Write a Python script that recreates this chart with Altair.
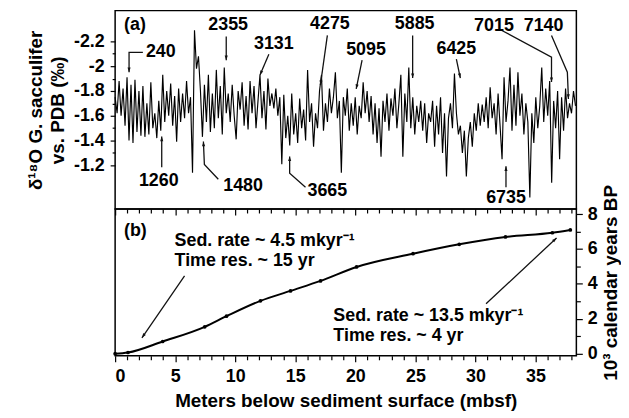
import math
import altair as alt
import pandas as pd

# ---------------- data ----------------
# panel (a): d18O of G. sacculifer, regular depth sampling
depth_step = 0.1652
d18o = [
    -1.75, -1.62, -1.88, -1.60, -1.82,
    -1.52, -1.91, -1.40, -1.85, -1.38,
    -1.89, -1.47, -1.80, -1.44, -1.84,
    -1.43, -1.70, -1.45, -1.87, -1.50,
    -1.62, -1.42, -1.72, -1.48, -1.93,
    -1.55, -1.80, -1.60, -1.86, -1.52,
    -1.76, -1.39, -1.82, -1.55, -1.78,
    -1.58, -1.88, -1.62, -1.75, -1.14,
    -2.29, -1.98, -2.08, -1.80, -1.43,
    -1.85, -1.55, -1.93, -1.47, -1.78,
    -1.50, -1.97, -1.58, -1.84, -1.45,
    -1.99, -1.62, -1.78, -1.55, -1.85,
    -1.60, -1.41, -1.80, -1.65, -1.87,
    -1.52, -1.76, -1.49, -1.88, -1.62,
    -1.84, -1.50, -1.72, -1.93, -1.58,
    -1.80, -1.49, -1.90, -1.68, -1.78,
    -1.66, -1.82, -1.60, -1.75, -1.21,
    -1.77, -1.42, -1.60, -1.36, -1.78,
    -1.45, -1.62, -1.38, -1.74, -1.50,
    -1.65, -1.40, -1.97, -1.55, -1.70,
    -1.35, -1.62, -1.50, -1.80, -1.93,
    -1.48, -1.70, -1.55, -1.82, -1.62,
    -1.75, -1.95, -1.58, -1.72, -1.14,
    -1.75, -1.60, -1.82, -1.48, -1.70,
    -1.52, -1.75, -1.45, -1.68, -1.58,
    -1.87, -1.62, -1.80, -1.55, -1.76,
    -1.45, -1.70, -1.38, -1.66, -1.27,
    -1.72, -1.55, -1.78, -1.48, -1.74,
    -1.60, -1.82, -1.50, -1.70, -1.93,
    -1.27, -1.78, -1.55, -1.99, -1.50,
    -1.75, -1.45, -1.68, -1.55, -1.72,
    -1.48, -1.70, -1.38, -1.62, -1.55,
    -1.72, -1.35, -1.68, -1.45, -1.75,
    -1.30, -1.62, -1.11, -1.58, -1.70,
    -1.50, -1.94, -1.62, -1.45, -1.52,
    -1.30, -1.48, -1.11, -1.42, -1.55,
    -1.35, -1.62, -1.48, -1.70, -1.52,
    -1.69, -1.55, -1.75, -1.50, -1.83,
    -1.58, -1.70, -1.45, -1.78, -1.52,
    -1.25, -1.91, -1.55, -1.72, -1.99,
    -1.48, -1.85, -1.52, -1.95, -1.60,
    -1.78, -1.45, -1.70, -1.55, -0.94,
    -1.62, -1.38, -1.75, -1.50, -1.68,
    -1.99, -1.55, -1.82, -1.60, -1.88,
    -1.06, -1.72, -1.50, -1.80, -1.25,
    -1.75, -1.48, -1.82, -1.58, -1.70,
    -1.62, -1.80, -1.68,
]
depth = [round(i * depth_step, 4) for i in range(len(d18o))]

# panel (a) labels (ages, yr BP) and their arrows
lab_text = ["240", "2355", "3131", "1260", "1480", "3665", "4275", "5095",
            "5885", "6425", "6735", "7015", "7140"]
lab_d = [3.80, 9.41, 13.21, 3.63, 10.65, 17.67, 17.88, 20.89, 24.94, 28.41, 32.54, 31.54, 35.67]
lab_v = [-2.112, -2.328, -2.176, -1.072, -1.032, -0.992, -2.336, -2.128, -2.336, -2.136, -0.936, -2.32, -2.32]
arrows_a = [
    [(2.31, -2.112), (1.16, -2.112), (1.16, -1.952)],
    [(9.25, -2.240), (9.25, -2.048)],
    [(12.80, -2.096), (12.06, -1.928)],
    [(3.88, -1.184), (3.88, -1.432)],
    [(8.59, -1.088), (7.43, -1.208), (7.35, -1.392)],
    [(15.85, -1.024), (14.53, -1.136), (14.53, -1.272)],
    [(17.67, -2.248), (17.09, -1.848)],
    [(20.56, -2.048), (20.07, -1.816)],
    [(24.77, -2.248), (24.77, -1.904)],
    [(28.41, -2.056), (28.74, -1.904)],
    [(32.54, -1.024), (32.54, -1.192)],
    [(32.20, -2.288), (36.33, -2.072), (36.33, -1.872)],
    [(36.33, -2.248), (37.65, -1.952), (37.74, -1.736)],
]

# panel (b): age-depth model
age_depth = [0.0, 1.07, 3.96, 7.46, 9.27, 12.1, 14.6, 17.1, 20.1, 24.8, 28.65, 32.5, 36.4, 37.9]
age_kyr = [0.0, 0.07, 0.70, 1.54, 2.15, 3.03, 3.60, 4.17, 4.97, 5.73, 6.27, 6.69, 6.93, 7.09]
note_text = ["Sed. rate ~ 4.5 mkyr\u207b\u00b9", "Time res. ~ 15 yr",
             "Sed. rate ~ 13.5 mkyr\u207b\u00b9", "Time res. ~ 4 yr"]
note_d = [4.95, 4.95, 18.17, 18.17]
note_a = [6.46, 5.31, 2.17, 1.03]
arrows_b = [
    [(5.78, 4.46), (2.23, 0.91)],
    [(30.88, 2.86), (36.75, 6.63)],
]
age_ticks = [0, 1, 2, 3, 4, 5, 6, 7, 8]

# ---------------- layout ----------------
W, HA, HB = 465, 200, 148
XMIN, XMAX = 0.0, 38.4
YA = [-2.448, -0.848]
YB = [-0.12, 8.29]
FONT = "Liberation Sans"
LBL = 18
pxm = W / (XMAX - XMIN)
pya = HA / (YA[1] - YA[0])
pyb = HB / (YB[1] - YB[0])

HEAD = "M0,0L0.7,2.1L-0.7,2.1Z"


def head_angle(p0, p1, sx, sy):
    dx = (p1[0] - p0[0]) * sx
    dy = (p1[1] - p0[1]) * sy
    return math.degrees(math.atan2(dx, -dy)) % 360


def arrow_frames(arrows, sx, sy):
    rows, heads = [], []
    for k, pts in enumerate(arrows):
        for j, (d, v) in enumerate(pts):
            rows.append({"id": k, "o": j, "depth": d, "val": v})
        heads.append({"depth": pts[-1][0], "val": pts[-1][1],
                      "ang": head_angle(pts[-2], pts[-1], sx, sy)})
    return pd.DataFrame(rows), pd.DataFrame(heads)


xs = alt.Scale(domain=[XMIN, XMAX], nice=False, zero=False)
x_ticks = list(range(0, 39))
tick5 = {"condition": {"test": "datum.value % 5 == 0", "value": 6}, "value": 4}

# ---- panel (a)
dfA = pd.DataFrame({"depth": depth, "val": d18o})
ya_scale = alt.Scale(domain=YA, reverse=True, nice=False, zero=False)
ya_vals = [-2.2, -2.1, -2.0, -1.9, -1.8, -1.7, -1.6, -1.5, -1.4, -1.3, -1.2]
major_a = "abs(datum.value*5 - round(datum.value*5)) < 0.001"

xa = alt.X("depth:Q", scale=xs,
           axis=alt.Axis(values=x_ticks, labels=False, title=None, domain=False,
                         grid=False, tickSize=tick5))
ya = alt.Y("val:Q", scale=ya_scale,
           axis=alt.Axis(values=ya_vals, domain=False, grid=False,
                         labelExpr=major_a + " ? '' + datum.value : ''",
                         tickSize={"condition": {"test": major_a, "value": 5}, "value": 3},
                         labelPadding=6,
                         title=["\u03b4\u00b9\u2078O G. sacculifer", "vs. PDB (\u2030)"],
                         titleLineHeight=22, titlePadding=6))

series = alt.Chart(dfA).mark_line(color="black", strokeWidth=1.15).encode(x=xa, y=ya)

arrA, headA = arrow_frames(arrows_a, pxm, pya)
arrowsA = alt.Chart(arrA).mark_line(color="#111", strokeWidth=1.3).encode(
    x=xa, y=ya, detail="id:N", order="o:Q")
headsA = alt.Chart(headA).mark_point(shape=HEAD, size=20, filled=True, color="#111",
                                     opacity=1).encode(
    x=xa, y=ya, angle=alt.Angle("ang:Q", scale=None))
labA = pd.DataFrame({"depth": lab_d, "val": lab_v, "t": lab_text})
textA = alt.Chart(labA).mark_text(font=FONT, fontWeight="bold", fontSize=LBL,
                                  color="black").encode(x=xa, y=ya, text="t:N")
panel_a_tag = alt.Chart(pd.DataFrame({"depth": [0.74], "val": [-2.328], "t": ["(a)"]})).mark_text(
    font=FONT, fontWeight="bold", fontSize=LBL, align="left", color="black").encode(
    x=xa, y=ya, text="t:N")

top = alt.layer(series, arrowsA, headsA, textA, panel_a_tag).properties(width=W, height=HA)

# ---- panel (b)
dfB = pd.DataFrame({"depth": age_depth, "val": age_kyr})
yb_scale = alt.Scale(domain=YB, nice=False, zero=False)
xb = alt.X("depth:Q", scale=xs,
           axis=alt.Axis(values=x_ticks, domain=False, grid=False, tickSize=tick5,
                         labelExpr="datum.value % 5 == 0 ? '' + datum.value : ''",
                         labelPadding=6, title="Meters below sediment surface (mbsf)",
                         titlePadding=6))
yb = alt.Y("val:Q", scale=yb_scale,
           axis=alt.Axis(orient="right", values=age_ticks, domain=False, grid=False,
                         labelExpr="datum.value % 2 == 0 ? '' + datum.value : ''",
                         labelOverlap=False,
                         tickSize={"condition": {"test": "datum.value % 2 == 0", "value": 6},
                                   "value": 4},
                         labelPadding=5, title="10\u00b3 calendar years BP",
                         titleAngle=270, titleBaseline="top", titlePadding=4))
curve = alt.Chart(dfB).mark_line(color="black", strokeWidth=2, interpolate="monotone").encode(
    x=xb, y=yb)
dots = alt.Chart(dfB).mark_point(filled=True, color="black", size=14, opacity=1).encode(
    x=xb, y=yb)

arrB, headB = arrow_frames(arrows_b, pxm, -pyb)
arrowsB = alt.Chart(arrB).mark_line(color="#111", strokeWidth=1.3).encode(
    x=xb, y=yb, detail="id:N", order="o:Q")
headsB = alt.Chart(headB).mark_point(shape=HEAD, size=20, filled=True, color="#111",
                                     opacity=1).encode(
    x=xb, y=yb, angle=alt.Angle("ang:Q", scale=None))
noteB = pd.DataFrame({"depth": note_d, "val": note_a, "t": note_text})
textB = alt.Chart(noteB).mark_text(font=FONT, fontWeight="bold", fontSize=LBL, align="left",
                                   color="black").encode(x=xb, y=yb, text="t:N")
panel_b_tag = alt.Chart(pd.DataFrame({"depth": [0.74], "val": [7.03], "t": ["(b)"]})).mark_text(
    font=FONT, fontWeight="bold", fontSize=LBL, align="left", color="black").encode(
    x=xb, y=yb, text="t:N")

bottom = alt.layer(curve, dots, arrowsB, headsB, textB, panel_b_tag).properties(width=W, height=HB)

chart = alt.vconcat(top, bottom, spacing=0, bounds="flush").properties(
    padding={"left": 18, "top": 0, "right": 0, "bottom": 0},
    background="white",
).configure_view(stroke="black", strokeWidth=1.5).configure_axis(
    labelFont=FONT, labelFontWeight="bold", labelFontSize=LBL, labelColor="black",
    titleFont=FONT, titleFontWeight="bold", titleFontSize=19, titleColor="black",
    tickColor="black", tickWidth=1.2,
)

chart.save("out.html", embed_options={"renderer": "svg", "actions": False})
